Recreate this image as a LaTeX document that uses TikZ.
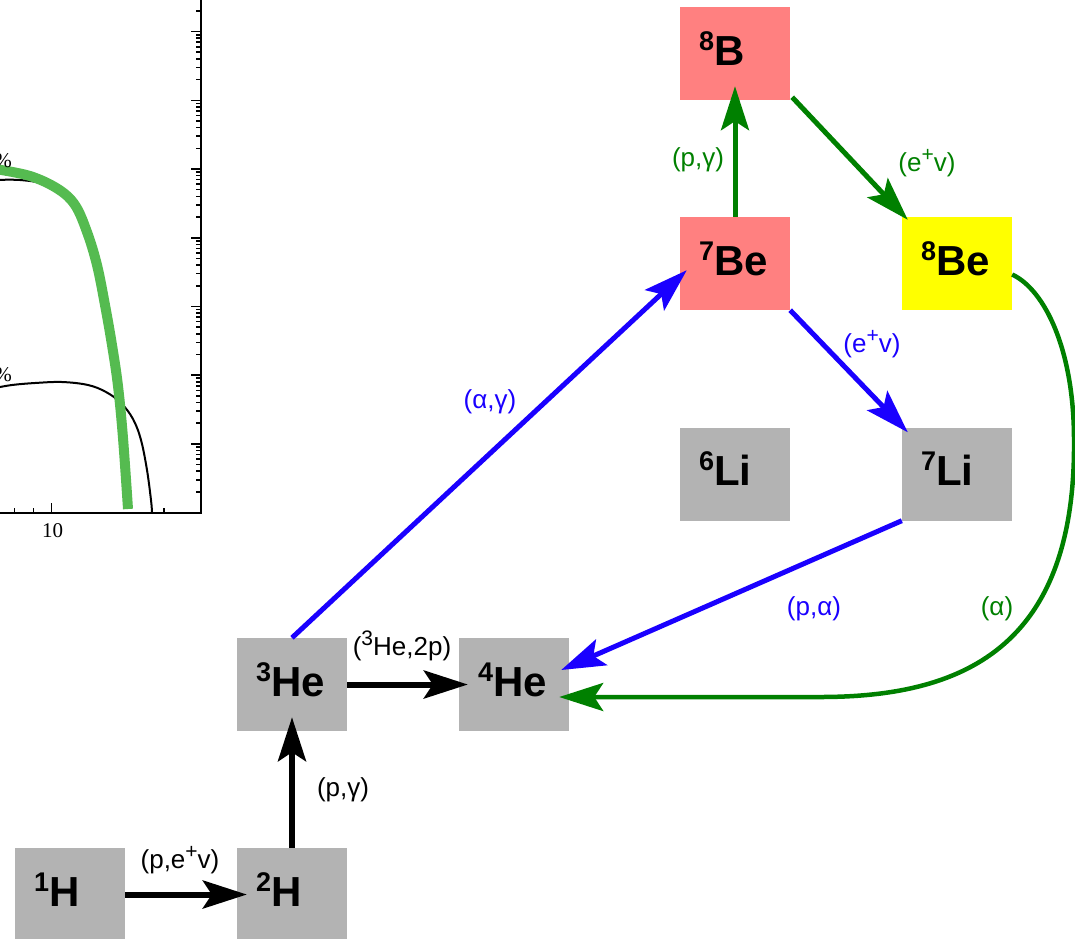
\documentclass[tikz,border=0pt]{standalone}
\usepackage{fontspec}
\setmainfont{Liberation Sans}
\newfontfamily\plotfont{Liberation Serif}
\usetikzlibrary{arrows.meta}
\definecolor{boxgray}{RGB}{179,179,179}
\definecolor{boxpink}{RGB}{255,128,128}
\definecolor{boxyellow}{RGB}{255,255,0}
\definecolor{rblue}{RGB}{26,0,255}
\definecolor{rgreen}{RGB}{0,128,0}
\definecolor{plotgreen}{RGB}{85,187,80}
\newcommand{\iso}[2]{{\fontsize{27}{27}\selectfont\raisebox{15pt}{#1}}#2}
\newcommand{\rsup}[1]{\raisebox{10pt}{\fontsize{21}{21}\selectfont #1}}
\begin{document}
\begin{tikzpicture}[x=1pt,y=-1pt,
  nuc/.style={rectangle, draw=none, inner xsep=19pt, inner ysep=0pt,
    text width=72pt, align=left, minimum height=93pt,
    text height=23pt, text depth=0pt,
    font=\fontsize{42}{42}\selectfont\bfseries},
  gray nuc/.style={nuc, fill=boxgray},
  pink nuc/.style={nuc, fill=boxpink},
  yellow nuc/.style={nuc, fill=boxyellow},
  rarrow/.style={-{Stealth[length=44pt,width=28pt,inset=9pt]}},
  blackarrow/.style={rarrow, draw=black, line width=6pt},
  bluearrow/.style={rarrow, draw=rblue, line width=5pt},
  greenarrow/.style={rarrow, draw=rgreen, line width=5pt},
  rlab/.style={inner sep=0pt, font=\fontsize{26}{26}\selectfont},
  axisline/.style={line width=2pt, draw=black},
  tickline/.style={line width=1.6pt, draw=black},
  plotlab/.style={inner sep=0pt, font=\plotfont\fontsize{21}{21}\selectfont}
]
\useasboundingbox (0,0) rectangle (1075,938);

% ---------- plot fragment (top left) ----------
\draw[black, line width=2pt] plot[smooth, tension=0.6] coordinates
  {(-5,180) (20,180) (45,184) (65,194) (80,212)};
\draw[black, line width=2pt] plot[smooth, tension=0.6] coordinates
  {(-5,388) (12,385) (35,383) (62,382) (88,385) (106,392) (121,403)
   (133,419) (141,440) (147,470) (151,500) (152,512)};
\draw[plotgreen, line width=10pt] plot[smooth, tension=0.6] coordinates
  {(-5,169) (30,176) (58,189) (75,205) (87,232) (97,265) (105,305)
   (112,345) (118,386) (123,438) (128,509)};
\draw[axisline] (201,0) -- (201,512.5) -- (0,512.5);
\foreach \i in {0,...,7} {
  \draw[tickline] (201,{512.5-68.7*\i}) -- ++(-10,0);
  \foreach \k in {2,...,9} {
    \draw[tickline] (201,{512.5-68.7*\i-68.7*log10(\k)}) -- ++(-5,0);
  }
}
\draw[tickline] (14.5,512.5) -- ++(0,-5);
\draw[tickline] (33.5,512.5) -- ++(0,-5);
\draw[tickline] (51.5,512.5) -- ++(0,-10);
\draw[tickline] (164,512.5) -- ++(0,-5);
\node[plotlab] (ten) at (52.5,530.5) {10};
\node[plotlab] (pcta) at (3,161) {\%};
\node[plotlab] (pctb) at (3,375) {\%};

% ---------- nuclide boxes ----------
\node[pink nuc]   (b8)  at (735,53.5)  {\iso{8}{B}};
\node[pink nuc]   (be7) at (735,263.5) {\iso{7}{Be}};
\node[yellow nuc] (be8) at (957,263.5) {\iso{8}{Be}};
\node[gray nuc]   (li6) at (735,474)   {\iso{6}{Li}};
\node[gray nuc]   (li7) at (957,474)   {\iso{7}{Li}};
\node[gray nuc]   (he3) at (292,684.5) {\iso{3}{He}};
\node[gray nuc]   (he4) at (514,684.5) {\iso{4}{He}};
\node[gray nuc]   (h1)  at (70,894.5)  {\iso{1}{H}};
\node[gray nuc]   (h2)  at (292,894.5) {\iso{2}{H}};

% ---------- reactions ----------
\draw[blackarrow] (h1.east) -- ([xshift=10pt]h2.west);
\draw[blackarrow] (h2.north) -- ([yshift=14pt]he3.south);
\draw[blackarrow] (he3.east) -- ([xshift=9pt]he4.west);
\draw[bluearrow] (he3.north) -- ([shift={(7,-40)}]be7.south west);
\draw[greenarrow] (be7.north) -- ([yshift=14pt]b8.south);
\draw[greenarrow] ([shift={(2,-3)}]b8.south east) -- ([shift={(6,3)}]be8.north west);
\draw[bluearrow] (be7.south east) -- ([shift={(6,5)}]li7.north west);
\draw[bluearrow] (li7.south west) -- ([shift={(-8,-14.5)}]he4.east);
\draw[greenarrow, line width=4.5pt] ([yshift=-11pt]be8.east)
  .. controls (1045,290) and (1074,350) .. (1074,440)
  .. controls (1076,650) and (960,697) .. (820,697)
  -- ([shift={(-10,12.5)}]he4.east);

% ---------- reaction labels ----------
\node[rlab] (l1) at (180,860) {(p,e\rsup{+}v)};
\node[rlab] (l2) at (343,790) {(p,γ)};
\node[rlab] (l3) at (402,646) {(\rsup{3}He,2p)};
\node[rlab, text=rblue] (l4) at (490,402) {(α,γ)};
\node[rlab, text=rgreen] (l5) at (698,160) {(p,γ)};
\node[rlab, text=rgreen] (l6) at (927,163) {(e\rsup{+}v)};
\node[rlab, text=rblue] (l7) at (872,344) {(e\rsup{+}v)};
\node[rlab, text=rblue] (l8) at (814,609) {(p,α)};
\node[rlab, text=rgreen] (l9) at (997,609) {(α)};
\end{tikzpicture}
\end{document}
